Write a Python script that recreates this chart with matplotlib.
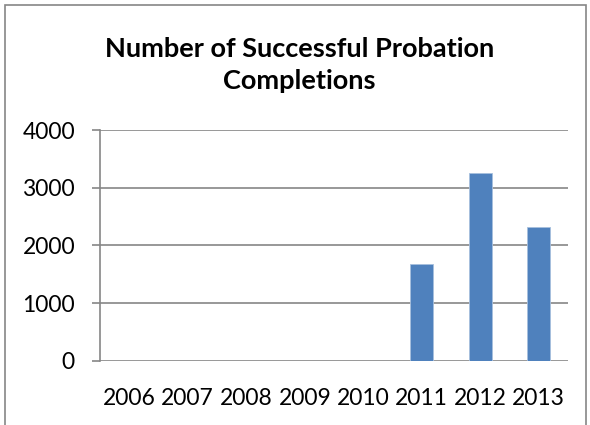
import matplotlib.pyplot as plt
from matplotlib.patches import Rectangle

# Datos
anios = ['2006', '2007', '2008', '2009', '2010', '2011', '2012', '2013']
completados = [0, 0, 0, 0, 0, 1674, 3264, 2326]

plt.rcParams['font.family'] = ['Lato', 'DejaVu Sans']

fig = plt.figure(figsize=(5.9, 4.25), dpi=100)
ax = fig.add_axes([100 / 590, 1 - 360.7 / 425, 468 / 590, 230.4 / 425])

x = range(len(anios))
ax.bar(x, completados, width=0.39, color='#4f81bd', edgecolor='#a7c0de', linewidth=0.6, zorder=3)

ax.set_ylim(0, 4000)
ax.set_yticks([0, 1000, 2000, 3000, 4000])
ax.set_xlim(-0.5, len(anios) - 0.5)
ax.set_xticks(list(x))
ax.set_xticklabels(anios)
ax.grid(axis='y', color='#868686', linewidth=1.2, zorder=0)
ax.tick_params(axis='x', length=0, pad=20, labelsize=16.5)
ax.tick_params(axis='y', length=6, width=1.2, color='#868686', pad=12, labelsize=16.5)
for lado in ['top', 'right', 'bottom']:
    ax.spines[lado].set_visible(False)
ax.spines['left'].set_color('#868686')
ax.spines['left'].set_linewidth(1.2)

fig.text(0.508, 1 - 65 / 425, 'Number of Successful Probation\nCompletions', ha='center', va='center',
         fontsize=19.5, fontweight='bold', linespacing=1.38)

# Borde exterior
fig.patches.append(Rectangle((5 / 590, -5 / 425), 581 / 590, 425 / 425, transform=fig.transFigure,
                             fill=False, edgecolor='#868686', linewidth=1.2))

fig.savefig('out.png', dpi=100)
